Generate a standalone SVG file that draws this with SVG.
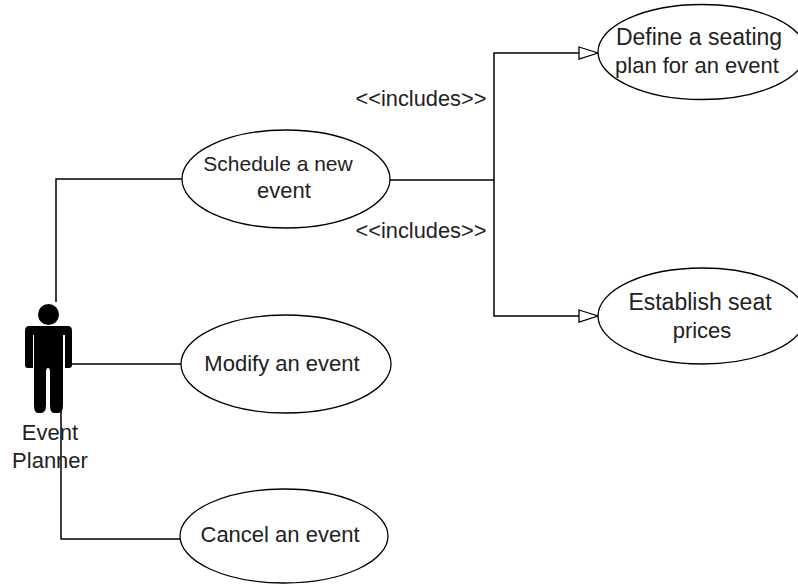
<svg xmlns="http://www.w3.org/2000/svg" width="798" height="585" viewBox="0 0 798 585">
<style>
.n{fill:#fff;stroke:#000;stroke-width:1.3}
.c{fill:none;stroke:#000;stroke-width:1.5}
text{font-family:"Liberation Sans",Arial,sans-serif;font-size:22px;fill:#222;text-anchor:middle}
.w{font-size:23px}
.s{font-size:21px}
.i{font-size:21.800px}
</style>
<defs><marker id="a" markerUnits="userSpaceOnUse" markerWidth="22" markerHeight="16" refX="20" refY="7" orient="auto"><path d="M1 1L20 7L1 13Z" fill="#fff" stroke="#000" stroke-width="1.3"/></marker></defs>
<rect width="798" height="585" fill="#fff"/>
<g id="connectors">
<path class="c" d="M56 302V179H183"/>
<path class="c" d="M72 364H182"/>
<path class="c" d="M61 410V539H180"/>
<path class="c" d="M390 180H494"/>
<path class="c" d="M494 180V53H598" marker-end="url(#a)"/>
<path class="c" d="M494 180V316H598" marker-end="url(#a)"/>
</g>
<g id="actor">
<circle cx="48.500" cy="314.500" r="10.500" fill="#000"/>
<path fill="#000" d="M29 326H68Q72 326 72 331V365Q72 368 69 368H65V335H63V405Q63 413 58 413H54Q50 413 50 405V372Q50 368 48 368Q46 368 46 372V405Q46 413 41 413H38Q34 413 34 405V335H33V368H28Q25 368 25 365V331Q25 326 29 326Z"/>
<text x="50" y="440">Event</text><text x="50" y="468">Planner</text>
</g>
<g id="schedule"><ellipse class="n" cx="286" cy="179" rx="104" ry="49"/><text class="s" x="278" y="171">Schedule a new</text><text x="284" y="198">event</text></g>
<g id="modify"><ellipse class="n" cx="286" cy="364" rx="105" ry="49"/><text x="282" y="371">Modify an event</text></g>
<g id="cancel"><ellipse class="n" cx="284" cy="536" rx="104" ry="47"/><text x="280" y="542">Cancel an event</text></g>
<g id="seating"><ellipse class="n" cx="702" cy="52" rx="104" ry="47.500"/><text class="w" x="699" y="45">Define a seating</text><text x="697" y="73">plan for an event</text></g>
<g id="prices"><ellipse class="n" cx="702" cy="316" rx="104" ry="48"/><text class="w" x="700" y="310">Establish seat</text><text x="702" y="338">prices</text></g>
<g id="labels"><text class="i" x="421" y="106">&lt;&lt;includes&gt;&gt;</text><text class="i" x="421" y="238">&lt;&lt;includes&gt;&gt;</text></g>
</svg>
